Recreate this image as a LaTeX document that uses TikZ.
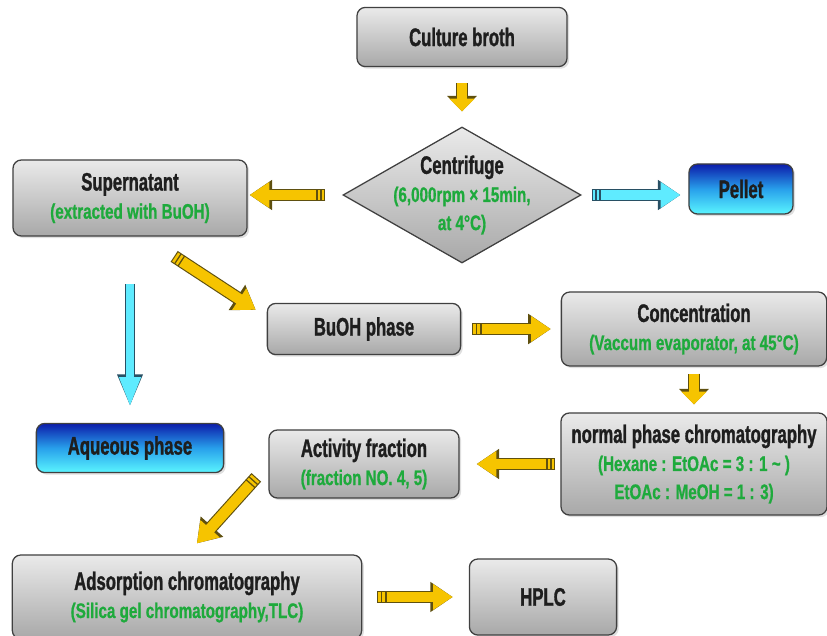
\documentclass[tikz,border=0pt]{standalone}
\usepackage{fontspec}
\setmainfont[FakeStretch=0.66, BoldFeatures={FakeBold=1.2}]{Liberation Sans}
\newfontfamily\subfamily[FakeStretch=0.72, BoldFeatures={FakeBold=0.8}]{Liberation Sans}
\usetikzlibrary{arrows.meta, shapes.geometric, shadows}
\definecolor{boxtop}     {RGB}{234, 234, 234}
\definecolor{boxbot}     {RGB}{168, 168, 168}
\definecolor{bluetop}    {RGB}{12, 28, 170}
\definecolor{bluemid}    {RGB}{40, 160, 235}
\definecolor{cyanbot}    {RGB}{90, 245, 255}
\definecolor{arrowyellow}{RGB}{246, 196, 0}
\definecolor{arrowedge}  {RGB}{95, 80, 15}
\definecolor{arrowcyan}  {RGB}{95, 235, 255}
\definecolor{cyanedge}   {RGB}{40, 80, 100}
\definecolor{titletext}  {RGB}{30, 30, 30}
\definecolor{subgreen}   {RGB}{30, 170, 60}
\newcommand{\ttl}{\fontsize{18pt}{20pt}\selectfont\bfseries}
\newcommand{\sbt}{\subfamily\fontsize{15pt}{17.5pt}\selectfont\bfseries\color{subgreen}}
\tikzset{
  % grey process box
  stepbox/.style={
    rectangle, rounded corners=6pt,
    draw=black!75, line width=0.9pt,
    top color=boxtop, bottom color=boxbot,
    font=\ttl, text=titletext, align=center, inner sep=2pt,
    drop shadow={opacity=0.25, shadow xshift=1.5pt, shadow yshift=-1.5pt}
  },
  % blue end box
  outbox/.style={
    stepbox, top color=bluetop, bottom color=cyanbot, middle color=bluemid
  },
  % decision diamond
  decision/.style={
    diamond, draw=black!75, line width=0.9pt,
    top color=boxtop, bottom color=boxbot, inner sep=0pt,
    minimum width=5.95cm, minimum height=3.4cm
  },
  % yellow block arrow, striped tail
  yarrow/.style={
    line width=7.6pt, draw=arrowyellow,
    -{Triangle[length=#1, width=17.5pt]},
    dash pattern=on 0pt off 0.8pt on 1.8pt off 1.1pt on 1.8pt off 1.1pt on 200pt,
    preaction={draw=arrowedge, line width=9.2pt, solid,
      -{Triangle[length=#1+2pt, width=20.5pt]}}
  },
  yarrow/.default=14pt,
  % cyan block arrow, striped tail
  carrow/.style={
    line width=7.6pt, draw=arrowcyan,
    -{Triangle[length=14pt, width=17.5pt]},
    dash pattern=on 0pt off 0.8pt on 1.8pt off 1.1pt on 1.8pt off 1.1pt on 200pt,
    preaction={draw=cyanedge, line width=9.2pt, solid,
      -{Triangle[length=16pt, width=20.5pt]}}
  },
  % thin cyan arrow
  cthin/.style={
    line width=5pt, draw=arrowcyan,
    -{Triangle[length=21pt, width=14pt]},
    preaction={draw=cyanedge, line width=6.6pt,
      -{Triangle[length=23pt, width=16.5pt]}}
  },
}

\begin{document}
\begin{tikzpicture}[x=0.025cm, y=-0.025cm]
  \useasboundingbox (0,0) rectangle (827,636);

  \node[stepbox, minimum width=5.25cm, minimum height=1.48cm] (cb) at (462,37) {Culture broth};
  \node[decision, label={[align=center, font=\ttl, text=titletext]center:Centrifuge\\{\sbt (6,000rpm × 15min,}\\{\sbt at 4°C)}}] (cf) at (462,195) {};
  \node[stepbox, minimum width=5.85cm, minimum height=1.9cm] (sup) at (130,198) {Supernatant\\{\sbt (extracted with BuOH)}};
  \node[outbox, minimum width=2.6cm, minimum height=1.25cm] (pel) at (741,189) {Pellet};
  \node[stepbox, minimum width=4.83cm, minimum height=1.28cm] (bu) at (364,329) {BuOH phase};
  \node[stepbox, minimum width=6.63cm, minimum height=1.85cm] (conc) at (694,329) {Concentration\\{\sbt (Vaccum evaporator, at 45°C)}};
  \node[outbox, minimum width=4.68cm, minimum height=1.23cm] (aq) at (130,448) {Aqueous phase};
  \node[stepbox, minimum width=4.75cm, minimum height=1.7cm] (act) at (364,464) {Activity fraction\\{\sbt (fraction NO. 4, 5)}};
  \node[stepbox, minimum width=6.65cm, minimum height=2.55cm] (npc) at (694,464) {normal phase chromatography\\{\sbt (Hexane : EtOAc = 3 : 1 \textasciitilde{} )}\\{\sbt EtOAc : MeOH = 1 : 3)}};
  \node[stepbox, minimum width=8.73cm, minimum height=2.1cm] (ads) at (187,597) {Adsorption chromatography\\{\sbt (Silica gel chromatography,TLC)}};
  \node[stepbox, minimum width=3.68cm, minimum height=1.9cm] (hplc) at (543,597) {HPLC};

  \draw[yarrow=9pt, solid, shorten <=0.4cm, shorten >=0.375cm] (cb) -- (cf);
  \draw[yarrow, shorten <=0.425cm, shorten >=0.05cm] (cf.west) -- (cf.west -| sup.east);
  \draw[carrow, shorten <=0.25cm, shorten >=0.2cm] (cf.east) -- (cf.east -| pel.west);
  \draw[yarrow, shorten <=0.9cm, shorten >=0.33cm] (sup.-70) -- (bu.173);
  \draw[cthin, shorten <=1.18cm, shorten >=0.4cm] (sup) -- (aq);
  \draw[yarrow, shorten <=0.275cm, shorten >=0.25cm] (bu) -- (conc);
  \draw[yarrow=9pt, solid, shorten <=0.175cm, shorten >=0.2cm] (conc) -- (npc);
  \draw[yarrow, shorten <=0.125cm, shorten >=0.425cm] (npc) -- (act);
  \draw[yarrow, shorten <=0.45cm, shorten >=0.37cm] (act.west) -- (ads.north);
  \draw[yarrow, shorten <=0.375cm, shorten >=0.4cm] (ads) -- (hplc);
\end{tikzpicture}
\end{document}
